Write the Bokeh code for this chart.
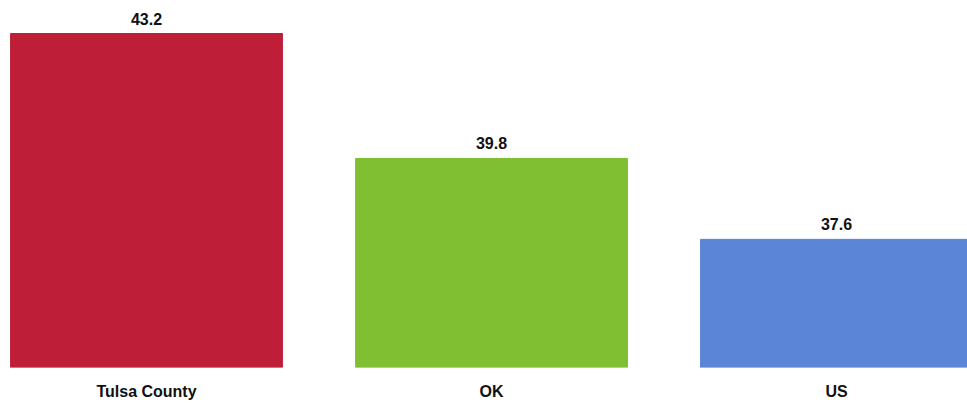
from bokeh.plotting import figure
from bokeh.models import ColumnDataSource, Range1d, FixedTicker
from bokeh.embed import file_html
from bokeh.resources import INLINE
from bokeh.core.properties import value

categories = ["Tulsa County", "OK", "US"]
values = [43.2, 39.8, 37.6]
colors = ["#BE1E38", "#80BF31", "#5B85D6"]
labels = ["43.2", "39.8", "37.6"]

xs = list(range(len(categories)))
src = ColumnDataSource(dict(x=xs, top=values, color=colors, label=labels))

y0 = 34.114
p = figure(width=967, height=404, output_backend="svg", toolbar_location=None,
           x_range=Range1d(-0.4232, 2.3797), y_range=Range1d(y0, 44.098),
           min_border_left=0, min_border_right=0, min_border_top=0, min_border_bottom=37)
p.vbar(x="x", top="top", bottom=y0, width=0.788, color="color", source=src)
p.text(x="x", y="top", text="label", source=src, text_align="center", text_baseline="bottom",
       y_offset=-9, text_font=value("Liberation Sans"), text_font_style="bold",
       text_font_size="16px", text_color="#111111")

p.xaxis.ticker = FixedTicker(ticks=xs)
p.xaxis.major_label_overrides = {i: c for i, c in zip(xs, categories)}
p.xaxis.major_label_text_font = "Liberation Sans"
p.xaxis.major_label_text_font_style = "bold"
p.xaxis.major_label_text_font_size = "16px"
p.xaxis.major_label_text_color = "#111111"
p.xaxis.major_label_standoff = 9
p.xaxis.axis_line_color = None
p.xaxis.major_tick_line_color = None
p.xaxis.minor_tick_line_color = None
p.yaxis.visible = False
p.xgrid.visible = False
p.ygrid.visible = False
p.outline_line_color = None

open("out.html", "w").write(file_html(p, INLINE))
